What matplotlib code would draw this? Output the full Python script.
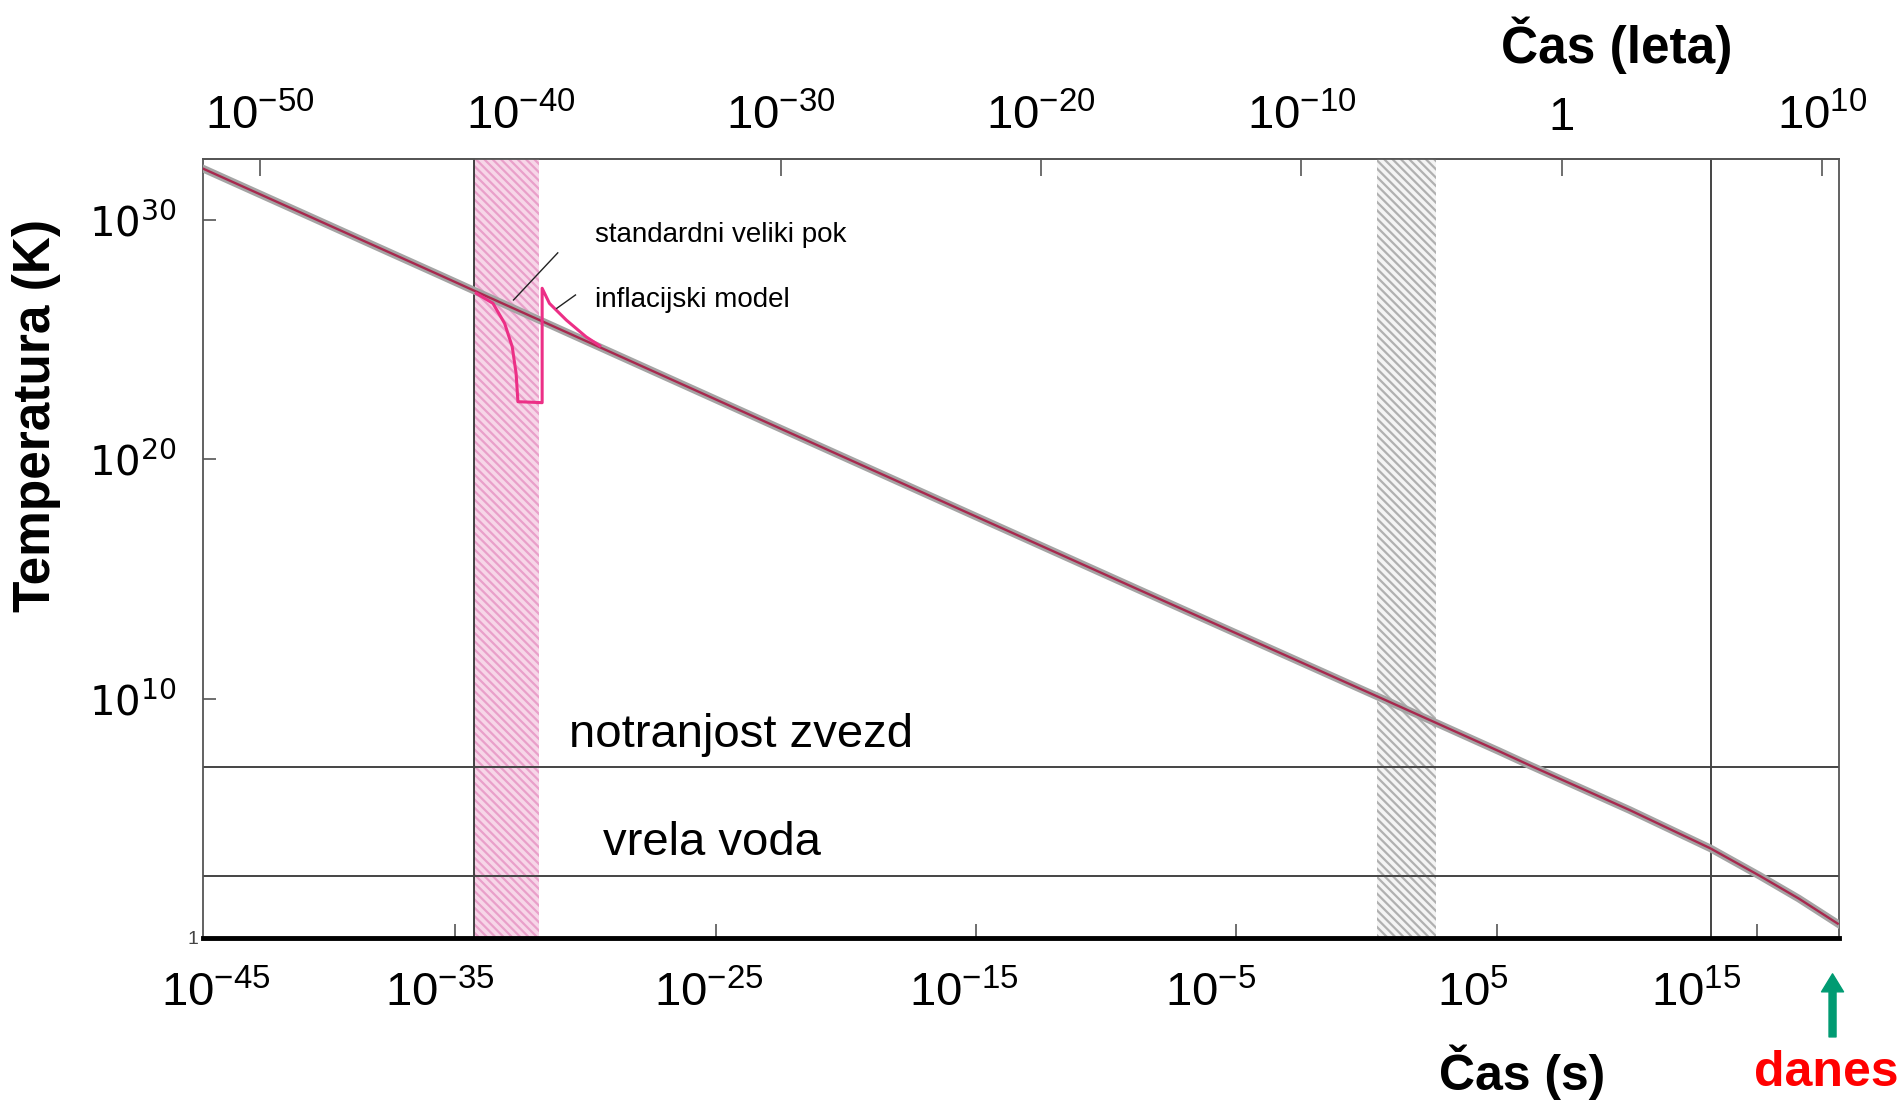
import matplotlib.pyplot as plt

plt.rcParams['font.family'] = ['Liberation Sans', 'DejaVu Sans']
plt.rcParams['mathtext.fontset'] = 'custom'
plt.rcParams['mathtext.rm'] = 'Liberation Sans'
plt.rcParams['mathtext.it'] = 'Liberation Sans:italic'
plt.rcParams['mathtext.bf'] = 'Liberation Sans:bold'
plt.rcParams['hatch.linewidth'] = 1.6

# temperature of the universe vs time (log10 of seconds, log10 of kelvin)
log_t = [-44.8, -35.6, -34.3, -20.5, -14.1, -8.7, 0.4, 5.1, 6.3, 10.1, 13.2, 15.1, 16.6, 18.1]
log_T = [32.2, 27.7, 27.06, 20.3, 17.17, 14.53, 10.1, 7.8, 7.2, 5.35, 3.75, 2.6, 1.65, 0.6]

# inflationary model detour
infl_t = [-34.2, -33.56, -33.11, -32.82, -32.67, -32.60, -31.67, -31.67, -31.39, -30.74, -29.98, -29.46]
infl_T = [26.94, 26.52, 25.68, 24.71, 23.59, 22.41, 22.37, 27.15, 26.52, 25.82, 25.12, 24.75]

# shaded epochs and markers
inflation_band = (-34.27, -31.8)
nucleo_band = (0.39, 2.67)
recomb_t = 13.24
stars_T = 7.14
boil_T = 2.57
today_t = 17.64
arrow_t = 17.9

# leader lines for the two model labels
std_lead_t = [-31.07, -32.77]
std_lead_T = [28.63, 26.66]
inf_lead_t = [-30.39, -31.11]
inf_lead_T = [26.87, 26.31]

# axis ticks
s_ticks = [-35, -25, -15, -5, 5, 15]
s_label_pos = [-44.2, -35.6, -25.25, -15.46, -6.0, 4.1, 12.65]
s_labels = ['$10^{-45}$', '$10^{-35}$', '$10^{-25}$', '$10^{-15}$', '$10^{-5}$', '$10^{5}$', '$10^{15}$']
yr_ticks = [-50, -40, -30, -20, -10, 0, 10]
yr_labels = ['$10^{-50}$', '$10^{-40}$', '$10^{-30}$', '$10^{-20}$', '$10^{-10}$', '1', '$10^{10}$']
T_ticks = [10, 20, 30]
T_labels = ['$10^{10}$', '$10^{20}$', '$10^{30}$']
sec_per_year = 7.5  # log10(seconds in a year)

fig = plt.figure(figsize=(19.02, 11.03), dpi=100)
ax = fig.add_axes([0.1067, 0.1496, 0.8602, 0.7062])
ax.set_xlim(-44.7, 18.15)
ax.set_ylim(0, 32.55)

# bands
ax.axvspan(*inflation_band, facecolor='#f7d6e8', edgecolor='#e9a0ca', hatch='\\\\\\\\', lw=0, zorder=1)
ax.axvspan(*nucleo_band, facecolor='#f4f4f4', edgecolor='#b0b0b0', hatch='\\\\\\\\', lw=0, zorder=1)
ax.axvline(inflation_band[0], color='#333333', lw=1.3, zorder=2)
ax.axvline(recomb_t, color='#444444', lw=1.4, zorder=2)

# reference temperatures
ax.axhline(stars_T, color='#444444', lw=1.4, zorder=2)
ax.axhline(boil_T, color='#444444', lw=1.4, zorder=2)
ax.text(-30.62, stars_T + 0.84, 'notranjost zvezd', fontsize=34, va='baseline')
ax.text(-29.35, boil_T + 0.89, 'vrela voda', fontsize=34, va='baseline')

# curves
ax.plot(log_t, log_T, color='#a4a4a4', lw=5.5, zorder=3)
ax.plot(log_t, log_T, color='#a8284e', lw=1.7, zorder=4)
ax.plot(infl_t, infl_T, color='#ec2f86', lw=2.2, zorder=5)

ax.plot(std_lead_t, std_lead_T, color='#222222', lw=1, zorder=5)
ax.plot(inf_lead_t, inf_lead_T, color='#222222', lw=1, zorder=5)
ax.text(-29.65, 29.37, 'standardni veliki pok', fontsize=20, va='center')
ax.text(-29.65, 26.66, 'inflacijski model', fontsize=20, va='center')

# bottom axis (seconds)
ax.set_xticks(s_label_pos, s_labels, fontsize=34)
ax.set_xticks(s_ticks, minor=True)
ax.tick_params(axis='x', which='major', length=0, pad=24)
ax.tick_params(axis='x', which='minor', direction='in', length=10, width=1.2, color='#555555')
ax.set_xlabel('Čas (s)', fontsize=36, fontweight='bold', va='center')
ax.xaxis.set_label_coords(0.806, -0.173)

# top axis (years)
sec = ax.secondary_xaxis('top', functions=(lambda s: s - sec_per_year, lambda y: y + sec_per_year))
sec.set_xticks(yr_ticks, yr_labels, fontsize=34)
sec.tick_params(direction='in', length=12, width=1.2, color='#555555', pad=14)
sec.spines['top'].set_color('#555555')
sec.spines['top'].set_linewidth(1.3)
ax.text(0.864, 1.146, 'Čas (leta)', transform=ax.transAxes, fontsize=37, fontweight='bold',
        ha='center', va='center')

# y axis
ax.set_yticks(T_ticks, T_labels, fontsize=29, math_fontfamily='dejavusans')
ax.set_yticks([0], ['1'], minor=True)
ax.tick_params(axis='y', which='major', direction='in', length=9, width=1.2, color='#555555', pad=19)
ax.tick_params(axis='y', which='minor', length=0, pad=3, labelsize=14, labelcolor='#444444')
ax.set_ylabel('Temperatura (K)', fontsize=37, fontweight='bold', va='center')
ax.yaxis.set_label_coords(-0.102, 0.671)

for side in ['left', 'right', 'top']:
    ax.spines[side].set_color('#555555')
    ax.spines[side].set_linewidth(1.3)
ax.spines['bottom'].set_color('black')
ax.spines['bottom'].set_linewidth(3.5)

# today marker
xt = ax.get_xaxis_transform()
ax.annotate('', xy=(arrow_t, -0.046), xytext=(arrow_t, -0.127), xycoords=xt,
            arrowprops=dict(arrowstyle='simple,head_length=0.9,head_width=1.1,tail_width=0.35',
                            color='#009b72', mutation_scale=14.4, shrinkA=0, shrinkB=0),
            annotation_clip=False)
ax.text(today_t, -0.173, 'danes', transform=xt, color='red', fontsize=36,
        fontweight='bold', ha='center', va='center')

fig.savefig('out.png', dpi=100)
